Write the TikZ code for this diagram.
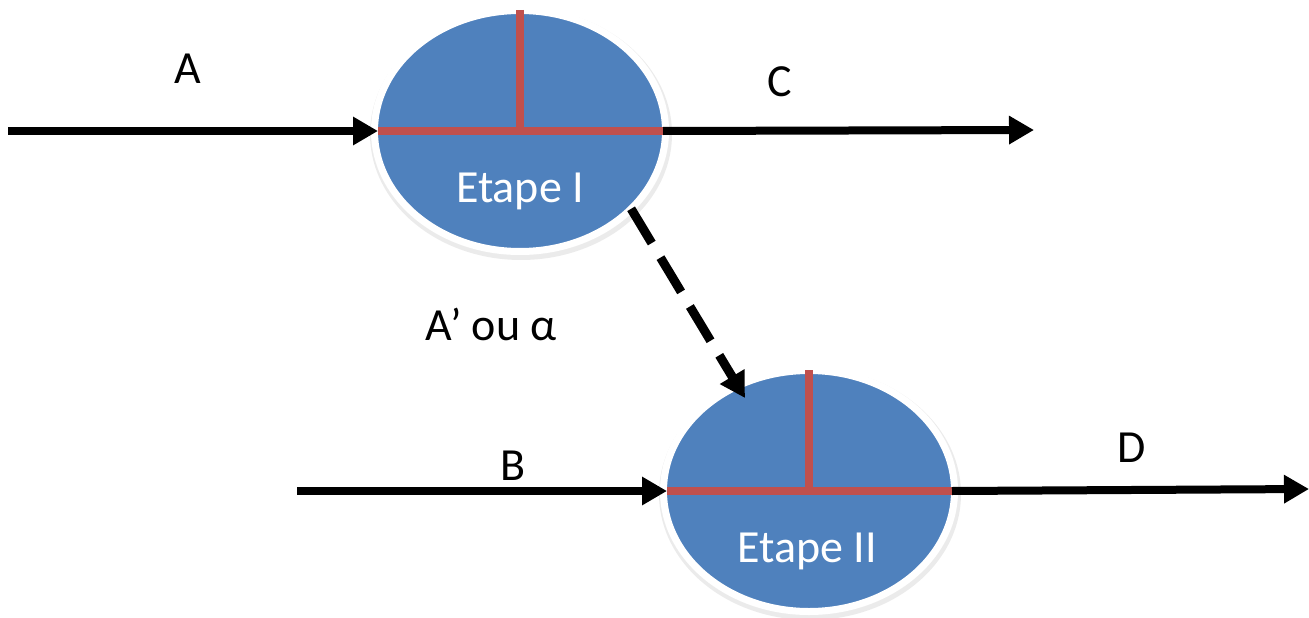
\documentclass[tikz,border=0pt]{standalone}
\usepackage{fontspec}
\setmainfont{Carlito}
\usetikzlibrary{arrows.meta,calc,shapes.geometric}
\definecolor{stepblue}{HTML}{4F81BD}
\definecolor{stepred}{HTML}{C0504D}
\begin{document}
\begin{tikzpicture}[x=1pt,y=-1pt,
  stage/.style={ellipse, fill=stepblue, draw=white, line width=7pt, minimum width=291pt, minimum height=241pt, inner sep=0pt, outer sep=0pt},
  halo/.style={fill=black, opacity=0.08},
  flow/.style={line width=8pt, -{Triangle[length=25pt,width=27pt]}},
  cross/.style={draw=stepred, line width=7.5pt},
  lbl/.style={font=\fontsize{46}{52}\selectfont, anchor=base, inner sep=0pt},
  inlbl/.style={lbl, text=white}]
\useasboundingbox (0,0) rectangle (1309,618);
% soft shadows
\fill[halo] (521,134) ellipse [x radius=151, y radius=126];
\fill[halo] (810,494) ellipse [x radius=151, y radius=126];
% stages
\node[stage] (e1) at (520,131) {};
\node[stage] (e2) at (809,491) {};
\coordinate (e1w) at ($(e1.center)+(-142,0)$);
\coordinate (e1e) at ($(e1.center)+(143,0)$);
\coordinate (e1n) at ($(e1.center)+(0,-121)$);
\coordinate (e1c) at ($(e1.center)+(0,3.75)$);
\coordinate (e2w) at ($(e2.center)+(-142,0)$);
\coordinate (e2e) at ($(e2.center)+(143,0)$);
\coordinate (e2n) at ($(e2.center)+(0,-121)$);
\coordinate (e2c) at ($(e2.center)+(0,3.75)$);
\draw[cross] (e1w) -- (e1e);
\draw[cross] (e1n) -- (e1c);
\draw[cross] (e2w) -- (e2e);
\draw[cross] (e2n) -- (e2c);
\node[inlbl] (t1) at (520,202) {Etape I};
\node[inlbl] (t2) at (807,562) {Etape II};
% flows
\coordinate (aStart) at (8,131);
\coordinate (cEnd) at (1034,130);
\coordinate (bStart) at (297,491);
\coordinate (dEnd) at (1309,489);
\coordinate (dashEnd) at (745,398);
\draw[flow] (aStart) -- (e1w);
\draw[flow] (e1e) -- (cEnd);
\draw[flow] (bStart) -- (e2w);
\draw[flow] (e2e) -- (dEnd);
\draw[flow, line width=9pt, dash pattern=on 40pt off 17pt] (e1.-35) -- (dashEnd);
% labels
\node[lbl] (la) at (188,84) {A};
\node[lbl] (lc) at (780,96) {C};
\node[lbl] (lb) at (513,480) {B};
\node[lbl] (ld) at (1132,462) {D};
\node[lbl] (lap) at (491,340) {A’ ou α};
\end{tikzpicture}
\end{document}
